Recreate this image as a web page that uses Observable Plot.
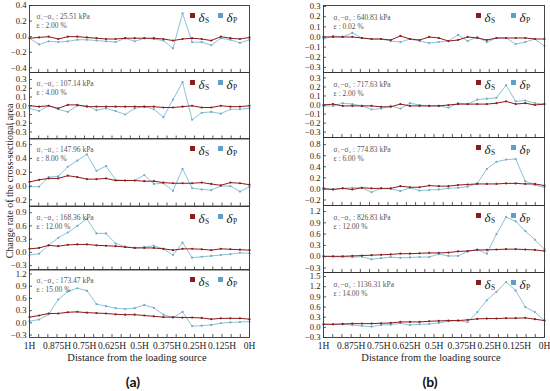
<!DOCTYPE html>
<html><head><meta charset="utf-8">
<script src="https://cdn.jsdelivr.net/npm/d3@7"></script>
<script src="https://cdn.jsdelivr.net/npm/@observablehq/plot@0.6"></script>
<style>
html,body{margin:0;padding:0;background:#fff;}
#root{position:relative;width:550px;height:391px;overflow:hidden;font-family:"Liberation Serif","Times New Roman",serif;color:#222;}
.panel{position:absolute;}
.panel svg{overflow:visible;background:transparent;display:block;}
.ytitle{position:absolute;left:9px;top:181px;transform:translate(-50%,-50%) rotate(-90deg);white-space:nowrap;font-size:10px;}
.xtitle{position:absolute;top:357px;transform:translate(-50%,-50%);white-space:nowrap;font-size:10.5px;}
.tag{position:absolute;top:381px;transform:translate(-50%,-50%);font-family:Lato,"Open Sans",sans-serif;font-weight:700;font-size:14px;color:#111;}
</style></head><body><div id="root"></div>
<script>
// ---------- data ----------
const xTickLabels = ["1H","0.875H","0.75H","0.625H","0.5H","0.375H","0.25H","0.125H","0H"];
const stressA = ["25.51","107.14","147.96","168.36","173.47"];
const strainA = ["2.00","4.00","8.00","12.00","15.00"];
const stressB = ["640.83","717.63","774.83","826.83","1136.31"];
const strainB = ["0.02","2.00","6.00","12.00","14.00"];

const yTicksA = [
  [-0.4,-0.2,0,0.2,0.4],
  [-0.3,-0.2,-0.1,0,0.1,0.2,0.3],
  [-0.2,0,0.2,0.4,0.6],
  [-0.3,0,0.3,0.6,0.9],
  [-0.3,0,0.3,0.6,0.9,1.2]
];
const yTicksB = [
  [-0.3,-0.2,-0.1,0,0.1,0.2,0.3],
  [-0.3,-0.2,-0.1,0,0.1,0.2,0.3],
  [-0.2,0,0.2,0.4,0.6,0.8],
  [-0.3,0,0.3,0.6,0.9,1.2],
  [-0.3,0,0.3,0.6,0.9,1.2,1.5]
];

// (a) delta S and delta P, 24 sections from 1H to 0H
const sA1 = [-0.02,-0.01,0.0,-0.03,0.0,0.0,-0.01,-0.02,-0.03,-0.03,-0.02,-0.02,-0.02,-0.02,-0.03,-0.05,-0.03,-0.02,-0.03,-0.05,0.0,-0.02,-0.03,-0.01];
const pA1 = [-0.02,-0.10,-0.06,-0.07,-0.06,-0.04,-0.04,-0.05,-0.06,-0.07,-0.02,-0.06,-0.02,-0.03,-0.05,-0.15,0.30,-0.07,-0.07,-0.11,-0.02,-0.04,-0.08,-0.04];
const sA2 = [0.0,-0.01,0.0,-0.03,0.01,0.01,-0.01,-0.01,-0.01,-0.01,-0.01,-0.01,-0.01,-0.01,-0.02,-0.02,-0.01,0.0,-0.02,-0.02,0.0,-0.01,-0.01,0.0];
const pA2 = [-0.03,-0.06,0.0,-0.04,-0.07,0.0,0.0,-0.05,-0.03,-0.06,-0.10,-0.03,-0.01,-0.04,-0.13,0.07,0.27,-0.16,-0.08,-0.07,-0.09,-0.04,-0.04,-0.03];
const sA3 = [0.06,0.09,0.11,0.11,0.15,0.13,0.10,0.10,0.11,0.08,0.08,0.08,0.07,0.07,0.05,0.04,0.04,0.04,0.05,0.03,0.01,0.05,0.04,0.02];
const pA3 = [-0.01,-0.01,0.13,0.14,0.28,0.37,0.46,0.22,0.29,0.09,0.08,0.08,0.16,0.03,0.04,-0.07,0.25,-0.03,-0.05,-0.06,0.0,0.0,-0.08,-0.01];
const sA4 = [0.08,0.10,0.16,0.14,0.17,0.18,0.18,0.16,0.15,0.14,0.12,0.10,0.10,0.10,0.08,0.05,0.08,0.08,0.07,0.05,0.08,0.07,0.06,0.05];
const pA4 = [-0.06,-0.03,0.16,0.33,0.45,0.60,0.76,0.43,0.43,0.20,0.13,0.10,0.12,0.15,0.08,-0.06,0.22,-0.12,-0.10,-0.08,-0.06,-0.04,-0.01,-0.02];
const sA5 = [0.14,0.18,0.23,0.23,0.26,0.27,0.25,0.24,0.23,0.21,0.20,0.20,0.18,0.16,0.14,0.14,0.13,0.13,0.12,0.09,0.11,0.11,0.11,0.09];
const pA5 = [0.04,0.08,0.21,0.57,0.77,0.85,0.79,0.46,0.41,0.36,0.34,0.36,0.44,0.37,0.20,0.13,0.27,-0.08,-0.07,-0.05,-0.01,0.01,0.02,0.03];

// (b)
const sB1 = [0.0,0.0,0.0,0.0,-0.01,-0.02,-0.02,-0.03,0.01,-0.02,-0.03,0.0,-0.01,-0.04,-0.03,0.0,-0.01,-0.03,-0.01,-0.01,-0.01,-0.01,-0.02,-0.02];
const pB1 = [-0.02,0.01,0.0,0.04,-0.01,-0.02,-0.02,-0.04,-0.05,-0.02,-0.04,-0.06,-0.05,-0.04,0.02,-0.04,0.0,-0.05,-0.01,-0.01,-0.07,-0.05,-0.02,-0.09];
const sB2 = [0.0,0.01,-0.01,-0.01,-0.01,-0.01,-0.02,-0.02,0.01,-0.01,-0.01,-0.01,-0.01,0.0,0.01,0.01,0.01,0.01,0.02,0.04,0.01,0.02,0.0,0.01];
const pB2 = [-0.01,-0.01,0.02,0.01,-0.01,-0.05,-0.04,-0.01,-0.04,0.02,0.0,-0.01,-0.01,-0.03,0.02,0.01,0.06,0.07,0.08,0.22,0.04,0.05,0.02,0.01];
const sB3 = [0.0,-0.01,0.01,-0.01,0.02,0.01,0.01,0.01,0.05,0.03,0.03,0.06,0.05,0.05,0.07,0.08,0.09,0.09,0.09,0.10,0.10,0.09,0.09,0.06];
const pB3 = [0.02,-0.01,0.01,0.02,0.02,-0.06,0.01,0.0,-0.04,0.02,-0.03,-0.02,-0.01,0.01,0.02,0.04,0.10,0.36,0.49,0.53,0.54,0.14,0.07,0.03];
const sB4 = [0.01,0.01,0.01,0.02,0.03,0.04,0.05,0.06,0.08,0.08,0.09,0.10,0.10,0.11,0.14,0.15,0.18,0.18,0.19,0.20,0.20,0.19,0.18,0.15];
const pB4 = [0.01,0.0,0.0,-0.01,0.0,-0.07,-0.04,-0.01,-0.03,-0.02,-0.01,-0.01,0.07,0.02,0.02,0.14,0.19,0.08,0.60,1.05,0.94,0.68,0.45,0.20];
const sB5 = [0.09,0.09,0.10,0.11,0.11,0.11,0.12,0.13,0.16,0.16,0.16,0.18,0.19,0.20,0.20,0.22,0.25,0.26,0.26,0.27,0.27,0.28,0.24,0.20];
const pB5 = [0.09,0.09,0.09,0.07,0.04,0.02,0.07,0.08,0.12,0.07,0.09,0.10,0.13,0.18,0.20,0.15,0.45,0.80,1.05,1.34,1.09,0.60,0.45,0.20];

// ---------- layout ----------
const nSections = 24;
const dist = d3.range(nSections).map(j => 1 - j / (nSections - 1));   // section positions 1H..0H
const xTickPos = d3.range(25).map(k => 1 - k / 24);
const xLabelPos = d3.range(9).map(k => 1 - k / 8);

const RED = "#8b1c1c", BLUE_LINE = "#8cc2d8", BLUE_DOT = "#6aaccb", BLUE_KEY = "#5c9fcb", INK = "#333";
const SVG_W = 275;

const columns = [
  {S:[sA1,sA2,sA3,sA4,sA5], P:[pA1,pA2,pA3,pA4,pA5], stress:stressA, strain:strainA, yTicks:yTicksA,
   left:0, ml:29, mr:26,
   frames:[[4.5,71.5],[71.5,138],[138,205.5],[205.5,269],[269,337]],
   domains:[[-0.46,0.4],[-0.38,0.38],[-0.29,0.69],[-0.40,1.04],[-0.36,1.31]],
   ann:{dx:7,dy:8}, leg:{s:-57,p:-29}},
  {S:[sB1,sB2,sB3,sB4,sB5], P:[pB1,pB2,pB3,pB4,pB5], stress:stressB, strain:strainB, yTicks:yTicksB,
   left:275, ml:48, mr:6,
   frames:[[5,72],[72,137],[137,205],[205,272],[272,337]],
   domains:[[-0.35,0.31],[-0.36,0.36],[-0.30,0.93],[-0.42,1.36],[-0.30,1.62]],
   ann:{dx:10,dy:9}, leg:{s:-66,p:-31}}
];

const root = document.getElementById("root");
const fmt = d3.format(".1f");

function legendMarks(dx, color, sub) {
  return [
    Plot.dot([0], {frameAnchor:"top-right", dx, dy:10, symbol:"square", r:2.8, fill:color}),
    Plot.text(["δ"], {text:d=>d, frameAnchor:"top-right", dx:dx+6, dy:7.5, textAnchor:"start", fontSize:13, fontStyle:"italic", fill:"#222"}),
    Plot.text([sub], {text:d=>d, frameAnchor:"top-right", dx:dx+12.5, dy:12, textAnchor:"start", fontSize:7.5, fill:"#222"})
  ];
}

columns.forEach(col => {
  for (let k = 0; k < 5; k++) {
    const [top, bottom] = col.frames[k];
    const H = bottom - top;
    const isBottom = k === 4;
    const mb = isBottom ? 16 : 0;
    const innerW = SVG_W - col.ml - col.mr;
    const rows = dist.map((x, j) => ({x, s: col.S[k][j], p: col.P[k][j]}));
    const yt = col.yTicks[k];
    const marks = [
      Plot.line(rows, {x:"x", y:"p", stroke:BLUE_LINE, strokeWidth:1}),
      Plot.dot(rows, {x:"x", y:"p", r:1.1, fill:BLUE_DOT}),
      Plot.line(rows, {x:"x", y:"s", stroke:RED, strokeWidth:1}),
      Plot.dot(rows, {x:"x", y:"s", r:1.1, fill:RED}),
      Plot.tickX(xTickPos, {x:d=>d, insetTop:H-3, stroke:INK, strokeWidth:0.8}),
      Plot.tickY(yt, {y:d=>d, insetRight:innerW-3, stroke:INK, strokeWidth:0.8}),
      Plot.axisY(yt, {tickSize:0, tickPadding:3, label:null, tickFormat:fmt, fontSize:8.6}),
      Plot.frame({stroke:INK, strokeWidth:0.9}),
      Plot.text([`σ₁−σ₃ : ${col.stress[k]} kPa`], {text:d=>d, frameAnchor:"top-left", dx:col.ann.dx, dy:col.ann.dy, textAnchor:"start", fontSize:7.5, fill:"#555"}),
      Plot.text([`ε : ${col.strain[k]} %`], {text:d=>d, frameAnchor:"top-left", dx:col.ann.dx, dy:col.ann.dy+9, textAnchor:"start", fontSize:7.5, fill:"#555"}),
      ...legendMarks(col.leg.s, RED, "S"),
      ...legendMarks(col.leg.p, BLUE_KEY, "P")
    ];
    if (isBottom) {
      marks.push(Plot.axisX(xLabelPos, {tickSize:0, tickPadding:5, label:null, fontSize:9.5,
        tickFormat: d => xTickLabels[Math.round((1 - d) * 8)]}));
    }
    const svg = Plot.plot({
      width: SVG_W, height: H + mb,
      marginTop: 0, marginBottom: mb, marginLeft: col.ml, marginRight: col.mr,
      style: {overflow:"visible", background:"transparent", fontFamily:"'Liberation Serif', 'Times New Roman', serif", fontSize:"9px", color:"#222"},
      x: {domain:[1,0], axis:null},
      y: {domain:col.domains[k], axis:null},
      marks
    });
    const div = document.createElement("div");
    div.className = "panel";
    div.style.left = col.left + "px";
    div.style.top = top + "px";
    div.appendChild(svg);
    root.appendChild(div);
  }
});

function addText(cls, text, x) {
  const d = document.createElement("div");
  d.className = cls; d.textContent = text;
  if (x !== undefined) d.style.left = x + "px";
  root.appendChild(d);
}
addText("ytitle", "Change rate of the cross-sectional area");
addText("xtitle", "Distance from the loading source", 137);
addText("xtitle", "Distance from the loading source", 431);
addText("tag", "(a)", 133);
addText("tag", "(b)", 430);
</script>
</body></html>
